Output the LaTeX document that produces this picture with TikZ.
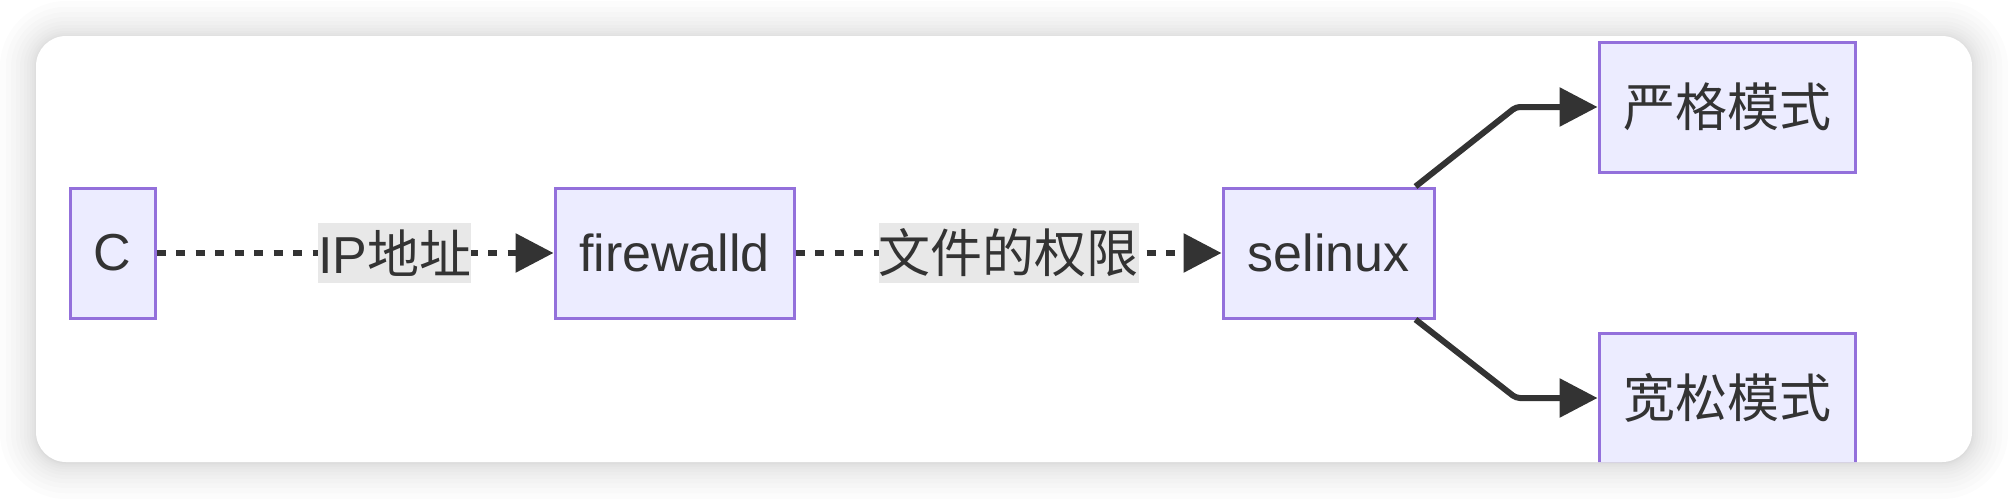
\documentclass[tikz,border=0pt]{standalone}
\usepackage{fontspec}
\setmainfont{Liberation Sans}
\newfontfamily\cjk{Noto Sans CJK SC}
\usetikzlibrary{arrows.meta}
\definecolor{boxfill}{HTML}{ECECFF}
\definecolor{boxline}{HTML}{9370DB}
\definecolor{ink}{HTML}{333333}
\definecolor{labelbg}{HTML}{E8E8E8}
\begin{document}
\begin{tikzpicture}[x=0.5pt, y=-0.5pt, font=\fontsize{26pt}{30pt}\selectfont,
  box/.style={draw=boxline, fill=boxfill, line width=1.5pt, minimum height=65pt, inner sep=0pt, text=ink},
  lbl/.style={fill=labelbg, inner sep=0pt, minimum height=30pt, text=ink},
  link/.style={draw=ink, line width=3pt, -{Triangle[length=19pt,width=19pt]}},
  dots/.style={link, dash pattern=on 4.5pt off 5.25pt}]
\useasboundingbox (0,0) rectangle (2008,498);
\foreach \i in {1,...,12}
{
\pgfmathsetmacro\e{\i*\i/4}
\pgfmathsetmacro\r{15+\e/2}
\fill[black, opacity=0.013, rounded corners=\r pt] (36-\e,37-\e) rectangle (1972+\e,463+\e);
}
\fill[white, rounded corners=15pt] (36,36) rectangle (1972,462);
\begin{scope}
\clip[rounded corners=15pt] (36,36) rectangle (1972,462);
\node[box, minimum width=42.5pt] (c) at (112.5,253) {C};
\node[box, minimum width=119.5pt] (fw) at (674.5,253) {firewalld};
\node[box, minimum width=105.5pt] (se) at (1328.5,253) {selinux};
\node[box, minimum width=128pt] (strict) at (1727,107) {\cjk 严格模式};
\node[box, minimum width=128pt] (loose) at (1727,398) {\cjk 宽松模式};
\coordinate (up) at (1516,107);
\coordinate (down) at (1516,398);
\draw[dots] (c) -- node[lbl, pos=0.6] {IP{\cjk 地址}} (fw);
\draw[dots] (fw) -- node[lbl] {\cjk 文件的权限} (se);
\draw[link, rounded corners=2pt] ([xshift=-10pt]se.north east) -- (up) -- (strict);
\draw[link, rounded corners=2pt] ([xshift=-10pt]se.south east) -- (down) -- (loose);
\end{scope}
\end{tikzpicture}
\end{document}
